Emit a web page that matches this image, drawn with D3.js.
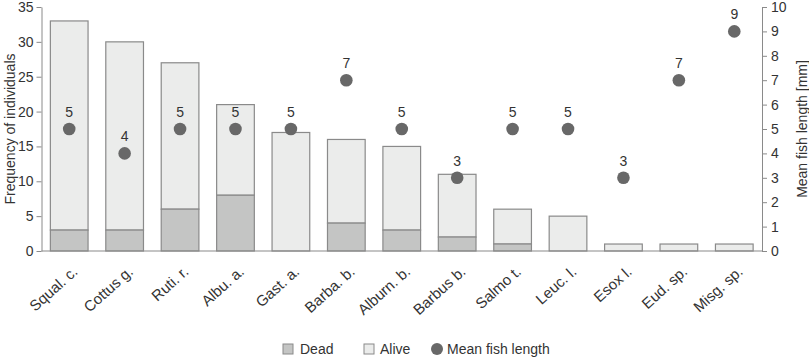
<!DOCTYPE html>
<html>
<head>
<meta charset="utf-8">
<script src="https://cdn.jsdelivr.net/npm/d3@7"></script>
<style>
  body { margin: 0; background: #fff; }
  svg { font-family: "Liberation Sans", Arial, sans-serif; }
</style>
</head>
<body>
<div id="grafico"></div>
<script>
const species = ["Squal. c.", "Cottus g.", "Ruti. r.", "Albu. a.", "Gast. a.", "Barba. b.", "Alburn. b.",
                 "Barbus b.", "Salmo t.", "Leuc. l.", "Esox l.", "Eud. sp.", "Misg. sp."];
const dead  = [3, 3, 6, 8, 0, 4, 3, 2, 1, 0, 0, 0, 0];
const total = [33, 30, 27, 21, 17, 16, 15, 11, 6, 5, 1, 1, 1];
const meanLength = [5, 4, 5, 5, 5, 7, 5, 3, 5, 5, 3, 7, 9];
const leftTicks  = [0, 5, 10, 15, 20, 25, 30, 35];
const rightTicks = [0, 1, 2, 3, 4, 5, 6, 7, 8, 9, 10];

const W = 809, H = 359;
const margin = { top: 7, left: 41.5, bottom: 108, right: 47 };
const width  = W - margin.left - margin.right;
const height = H - margin.top - margin.bottom;

const deadFill = "#c4c5c4", aliveFill = "#ebeceb", edge = "#8a8a8a", dotFill = "#686868", txt = "#333";

const svg = d3.select("#grafico")
              .append("svg")
              .attr("width", W)
              .attr("height", H)
              .append("g")
              .attr("transform", `translate(${margin.left}, ${margin.top})`);

const xScale = d3.scaleBand()
                 .domain(species)
                 .range([0, width])
                 .paddingInner(0.32)
                 .paddingOuter(0.16);

const yScale = d3.scaleLinear().domain([0, 35]).range([height, 0]);
const y2Scale = d3.scaleLinear().domain([0, 10]).range([height, 0]);

// axes
const yAxis = svg.append("g")
   .call(d3.axisLeft(yScale).tickValues(leftTicks).tickSize(5).tickSizeOuter(0));
const y2Axis = svg.append("g")
   .attr("transform", `translate(${width}, 0)`)
   .call(d3.axisRight(y2Scale).tickValues(rightTicks).tickSize(5).tickSizeOuter(0));

[yAxis, y2Axis].forEach(a => {
    a.select(".domain").attr("stroke", edge);
    a.selectAll(".tick line").attr("stroke", edge);
    a.selectAll(".tick text").attr("fill", txt).style("font-size", "14px")
     .style("font-family", "Liberation Sans, Arial, sans-serif");
});
yAxis.selectAll(".tick text").attr("x", -8);
y2Axis.selectAll(".tick text").attr("x", 9);

// bars
const data = species.map((s, i) => ({ s, dead: dead[i], total: total[i], len: meanLength[i] }));

svg.selectAll(".alive")
   .data(data)
   .join("rect")
   .attr("x", d => xScale(d.s))
   .attr("width", xScale.bandwidth())
   .attr("y", d => yScale(d.total))
   .attr("height", d => yScale(d.dead) - yScale(d.total))
   .attr("fill", aliveFill)
   .attr("stroke", edge)
   .attr("stroke-width", 1.2);

svg.selectAll(".dead")
   .data(data.filter(d => d.dead > 0))
   .join("rect")
   .attr("x", d => xScale(d.s))
   .attr("width", xScale.bandwidth())
   .attr("y", d => yScale(d.dead))
   .attr("height", d => yScale(0) - yScale(d.dead))
   .attr("fill", deadFill)
   .attr("stroke", edge)
   .attr("stroke-width", 1.2);

// baseline
svg.append("line")
   .attr("x1", 0).attr("x2", width)
   .attr("y1", height).attr("y2", height)
   .attr("stroke", edge).attr("stroke-width", 1.2);

// category labels
svg.selectAll(".cat")
   .data(species)
   .join("text")
   .attr("transform", d => `translate(${xScale(d) + xScale.bandwidth() / 2 + 6}, ${height + 18}) rotate(-42)`)
   .attr("text-anchor", "end")
   .attr("dy", "0.35em")
   .attr("fill", txt)
   .style("font-size", "15px")
   .text(d => d);

// mean length dots
svg.selectAll(".dot")
   .data(data)
   .join("circle")
   .attr("cx", d => xScale(d.s) + xScale.bandwidth() / 2)
   .attr("cy", d => y2Scale(d.len))
   .attr("r", 6.3)
   .attr("fill", dotFill);

svg.selectAll(".lbl")
   .data(data)
   .join("text")
   .attr("x", d => xScale(d.s) + xScale.bandwidth() / 2)
   .attr("y", d => y2Scale(d.len) - 12)
   .attr("text-anchor", "middle")
   .attr("fill", txt)
   .style("font-size", "14px")
   .text(d => d.len);

// axis titles
svg.append("text")
   .attr("transform", `translate(${-27}, ${height / 2}) rotate(-90)`)
   .attr("text-anchor", "middle")
   .attr("fill", txt)
   .style("font-size", "14px")
   .text("Frequency of individuals");

svg.append("text")
   .attr("transform", `translate(${width + 45}, ${height / 2}) rotate(-90)`)
   .attr("text-anchor", "middle")
   .attr("fill", txt)
   .style("font-size", "14px")
   .text("Mean fish length [mm]");

// legend
const legend = svg.append("g").attr("transform", `translate(0, ${H - margin.top - 10})`);
legend.append("rect").attr("x", 283 - margin.left).attr("y", -5).attr("width", 10).attr("height", 10)
      .attr("fill", deadFill).attr("stroke", edge);
legend.append("text").attr("x", 300 - margin.left).attr("dy", "0.35em").attr("fill", txt)
      .style("font-size", "14px").text("Dead");
legend.append("rect").attr("x", 364 - margin.left).attr("y", -5).attr("width", 10).attr("height", 10)
      .attr("fill", aliveFill).attr("stroke", edge);
legend.append("text").attr("x", 380 - margin.left).attr("dy", "0.35em").attr("fill", txt)
      .style("font-size", "14px").text("Alive");
legend.append("circle").attr("cx", 437 - margin.left).attr("r", 6).attr("fill", dotFill);
legend.append("text").attr("x", 447 - margin.left).attr("dy", "0.35em").attr("fill", txt)
      .style("font-size", "14px").text("Mean fish length");
</script>
</body>
</html>
